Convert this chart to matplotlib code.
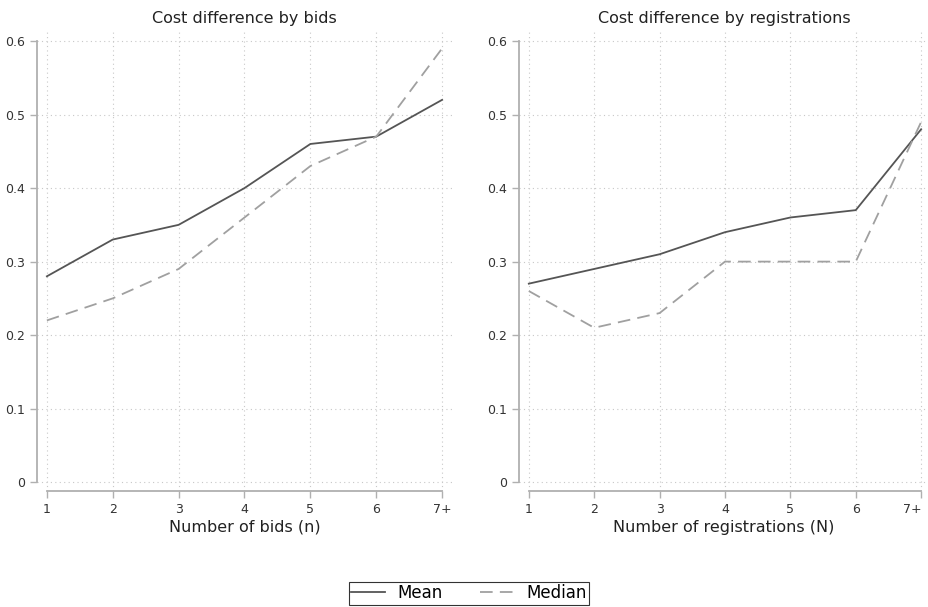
import matplotlib
matplotlib.use("Agg")
import matplotlib.pyplot as plt

plt.rcParams['font.family'] = ['DejaVu Sans']

x_labels = ["1", "2", "3", "4", "5", "6", "7+"]
x_pos = [1, 2, 3, 4, 5, 6, 7]

bids_mean = [0.28, 0.33, 0.35, 0.40, 0.46, 0.47, 0.52]
bids_median = [0.22, 0.25, 0.29, 0.36, 0.43, 0.47, 0.59]
reg_mean = [0.27, 0.29, 0.31, 0.34, 0.36, 0.37, 0.48]
reg_median = [0.26, 0.21, 0.23, 0.30, 0.30, 0.30, 0.49]

y_ticks = [0, 0.1, 0.2, 0.3, 0.4, 0.5, 0.6]
y_labels = ["0", "0.1", "0.2", "0.3", "0.4", "0.5", "0.6"]

W, H = 929, 607
fig = plt.figure(figsize=(W / 100, H / 100), dpi=100)

def px(l, t, r, b):
    return [l / W, 1 - b / H, (r - l) / W, (b - t) / H]

ax1 = fig.add_axes(px(37, 30, 452, 491))
ax2 = fig.add_axes(px(519, 30, 929, 491))

panels = [
    (ax1, bids_mean, bids_median, "Cost difference by bids", "Number of bids (n)", 7.15),
    (ax2, reg_mean, reg_median, "Cost difference by registrations", "Number of registrations (N)", 7.12),
]

for ax, mean, median, title, xlabel, xmax in panels:
    ax.plot(x_pos, mean, color="#555555", lw=1.3, label="Mean")
    ax.plot(x_pos, median, color="#a0a0a0", lw=1.3, dashes=(7, 4), label="Median")
    ax.set_xlim(0.85, xmax)
    ax.set_ylim(-0.012, 0.615)
    ax.set_xticks(x_pos)
    ax.set_xticklabels(x_labels)
    ax.set_yticks(y_ticks)
    ax.set_yticklabels(y_labels)
    ax.grid(True, linestyle=(0, (1, 3)), color="#c8c8c8", lw=0.8)
    for s in ["top", "right"]:
        ax.spines[s].set_visible(False)
    ax.spines["left"].set_bounds(0, 0.6)
    ax.spines["bottom"].set_bounds(1, 7)
    for s in ["left", "bottom"]:
        ax.spines[s].set_color("#b0b0b0")
        ax.spines[s].set_linewidth(1.3)
    ax.tick_params(colors="#b0b0b0", labelcolor="#333333", labelsize=9, length=5, width=1.0)
    ax.set_title(title, fontsize=11.5, color="#222222", pad=5)
    ax.set_xlabel(xlabel, fontsize=11.5, color="#222222", labelpad=3)

# keep the last tick label inside the figure
ax2.get_xticklabels()[-1].set_horizontalalignment("right")

leg = fig.legend(
    handles=ax1.get_lines(),
    labels=["Mean", "Median"],
    ncol=2,
    loc="center",
    bbox_to_anchor=(469 / W, 1 - 593 / H),
    frameon=True,
    fancybox=False,
    edgecolor="black",
    fontsize=12,
    handlelength=2.0,
    handletextpad=0.8,
    columnspacing=2.2,
    borderpad=0.15,
)
leg.get_frame().set_linewidth(0.8)

fig.savefig("out.png", dpi=100, facecolor="white")
